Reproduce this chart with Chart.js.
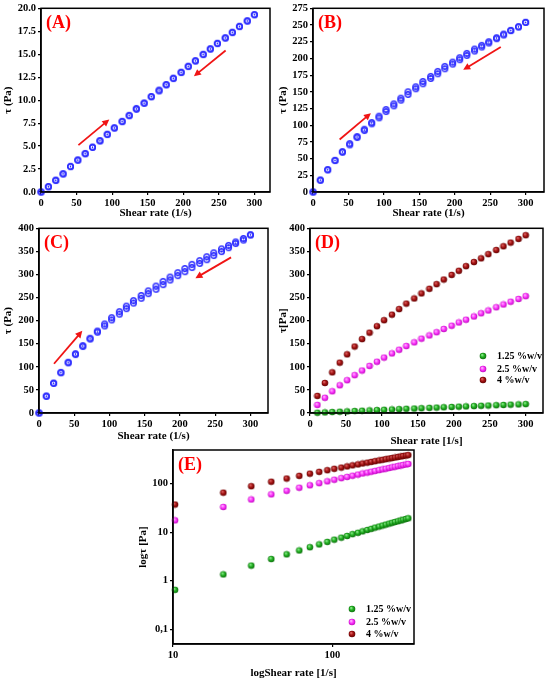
<!DOCTYPE html>
<html>
<head>
<meta charset="utf-8">
<script src="https://cdn.jsdelivr.net/npm/chart.js@4.4.0/dist/chart.umd.min.js"></script>
<style>
  body { margin: 0; background: #fff; width: 550px; height: 685px; position: relative; overflow: hidden; }
  canvas { position: absolute; }
</style>
</head>
<body>
<canvas id="cA"></canvas>
<canvas id="cB"></canvas>
<canvas id="cC"></canvas>
<canvas id="cD"></canvas>
<canvas id="cE"></canvas>
<script>
// shear rates (1/s) of the up / down sweeps
const shearRate = [0, 10.3, 20.7, 31.0, 41.4, 51.7, 62.1, 72.4, 82.8, 93.1, 103, 114, 124, 134, 145,
  155, 166, 176, 186, 197, 207, 217, 228, 238, 248, 259, 269, 279, 290, 300]

// (A) 1.25 %w/v
const tauA_up = [0, 0.6, 1.3, 2.0, 2.8, 3.5, 4.2, 4.9, 5.6, 6.3, 7.0, 7.7, 8.35, 9.1, 9.7,
  10.4, 11.1, 11.7, 12.4, 13.05, 13.7, 14.3, 15.0, 15.6, 16.2, 16.8, 17.4, 18.05, 18.65, 19.3]
const tauA_down = [0, 0.55, 1.25, 1.95, 2.75, 3.45, 4.15, 4.85, 5.55, 6.25, 6.95, 7.65, 8.3, 9.0, 9.65,
  10.35, 11.0, 11.65, 12.35, 13.0, 13.65, 14.25, 14.95, 15.55, 16.15, 16.75, 17.35, 18.0, 18.6, 19.3]

// (B) 2.5 %w/v
const tauB_up = [0, 18, 33.5, 47.5, 60.5, 72.5, 83, 94, 104, 113.5, 123.5, 132, 140.5, 150, 157.5,
  165.5, 173, 180.5, 188, 194.5, 201, 207.5, 214, 219.5, 225, 231, 236.5, 242, 247.5, 254]
const tauB_down = [0, 17.5, 33, 47, 59.5, 70.5, 81.5, 92, 102, 111, 120.5, 129, 137.5, 146, 154.5,
  162, 170, 177, 184.5, 191.5, 198, 204.5, 211, 217, 223, 229.5, 235, 241.5, 247, 254]

// (C) 4 %w/v
const tauC_up = [0, 37, 65, 88, 110, 128.5, 146, 162, 177.5, 193, 206.5, 219.5, 231.5, 243.5, 254.5,
  264.5, 275, 285, 294.5, 304, 313, 322, 330, 338.5, 347, 355.5, 363, 370.5, 378, 386]
const tauC_down = [0, 36, 64, 87, 108.5, 126.5, 144, 160, 175, 188.5, 201.5, 214, 226, 238, 248.5,
  258.5, 268, 278, 288, 297.5, 306, 315, 324, 332, 341, 349.5, 358, 367, 374.5, 385.5]

// (D) / (E) flow curves, shear rate 10.3 .. 300
const flowRate = shearRate.slice(1)
const tau125 = [0.65, 1.35, 2.05, 2.8, 3.5, 4.2, 4.9, 5.6, 6.3, 7.0, 7.7, 8.35, 9.1, 9.7, 10.4,
  11.1, 11.7, 12.4, 13.05, 13.7, 14.3, 15.0, 15.6, 16.2, 16.8, 17.4, 18.05, 18.65, 19.3]
const tau25 = [17.5, 33, 47, 60, 71, 82, 92, 102, 111, 120, 129, 137, 145, 153, 161,
  168, 175, 182, 189, 196, 202, 209, 216, 222, 229, 235, 241, 247, 253]
const tau4 = [37, 65, 88, 109, 127, 144, 160, 174, 188, 201, 213, 225, 237, 248, 259,
  269, 279, 289, 299, 308, 318, 327, 335, 344, 353, 361, 369, 377, 385]
const seriesNames = ['1.25 %w/v', '2.5 %w/v', '4 %w/v']

const FONT = '"Liberation Serif", "Times New Roman", serif'

const pts = (xs, ys) => xs.map((x, i) => ({ x, y: ys[i] }))

// hollow blue circle with a dot in the middle
function ringMarker () {
  const c = document.createElement('canvas')
  c.width = 9; c.height = 9
  const g = c.getContext('2d')
  g.strokeStyle = '#2d2dff'
  g.lineWidth = 1.5
  g.beginPath(); g.arc(4.5, 4.5, 2.8, 0, Math.PI * 2); g.stroke()
  g.fillStyle = '#2d2dff'
  g.beginPath(); g.arc(4.5, 4.5, 0.7, 0, Math.PI * 2); g.fill()
  return c
}

// shaded sphere marker
function ballMarker (light, base, dark) {
  const c = document.createElement('canvas')
  c.width = 8; c.height = 8
  const g = c.getContext('2d')
  const grad = g.createRadialGradient(3, 2.8, 0.2, 4, 4, 3.6)
  grad.addColorStop(0, light)
  grad.addColorStop(0.45, base)
  grad.addColorStop(1, dark)
  g.fillStyle = grad
  g.beginPath(); g.arc(4, 4, 3.3, 0, Math.PI * 2); g.fill()
  return c
}

const ring = ringMarker()
const balls = [
  ballMarker('#9cf09c', '#22b422', '#0b640b'),
  ballMarker('#ffc0ff', '#ff3cff', '#b800b8'),
  ballMarker('#e27070', '#a81414', '#5a0000')
]

const framePlugin = {
  id: 'frame',
  afterDatasetsDraw (chart, args, o) {
    const { ctx, chartArea: a, scales } = chart
    ctx.save()
    ctx.strokeStyle = '#000'
    ctx.lineWidth = 1.5
    ctx.strokeRect(a.left, a.top, a.right - a.left, a.bottom - a.top)

    ctx.fillStyle = '#ff0000'
    ctx.font = 'bold 18px ' + FONT
    ctx.textBaseline = 'alphabetic'
    ctx.textAlign = 'left'
    ctx.fillText(o.letter, a.left + 5, a.top + 20)

    ;(o.arrows || []).forEach(ar => {
      const x1 = scales.x.getPixelForValue(ar[0]), y1 = scales.y.getPixelForValue(ar[1])
      const x2 = scales.x.getPixelForValue(ar[2]), y2 = scales.y.getPixelForValue(ar[3])
      const ang = Math.atan2(y2 - y1, x2 - x1)
      ctx.strokeStyle = '#f01414'
      ctx.fillStyle = '#f01414'
      ctx.lineWidth = 1.8
      ctx.beginPath()
      ctx.moveTo(x1, y1)
      ctx.lineTo(x2 - 5 * Math.cos(ang), y2 - 5 * Math.sin(ang))
      ctx.stroke()
      ctx.beginPath()
      ctx.moveTo(x2, y2)
      ctx.lineTo(x2 - 7 * Math.cos(ang) + 3.5 * Math.sin(ang), y2 - 7 * Math.sin(ang) - 3.5 * Math.cos(ang))
      ctx.lineTo(x2 - 7 * Math.cos(ang) - 3.5 * Math.sin(ang), y2 - 7 * Math.sin(ang) + 3.5 * Math.cos(ang))
      ctx.closePath()
      ctx.fill()
    })

    if (o.legend) {
      const L = o.legend
      ctx.font = 'bold 10px ' + FONT
      ctx.fillStyle = '#000'
      ctx.textBaseline = 'middle'
      chart.data.datasets.forEach((ds, i) => {
        const y = a.bottom + L.rows[i]
        const img = ds.pointStyle
        ctx.drawImage(img, a.right + L.sx - img.width / 2, y - img.height / 2)
        ctx.fillText(ds.label, a.right + L.tx, y)
      })
    }
    ctx.restore()
  }
}

function axis (cfg) {
  return {
    type: cfg.type || 'linear',
    min: cfg.min,
    max: cfg.max,
    afterFit: cfg.fit,
    afterBuildTicks: cfg.fixedTicks ? s => { s.ticks = cfg.fixedTicks.map(v => ({ value: v })) } : undefined,
    ticks: {
      stepSize: cfg.step,
      includeBounds: false,
      color: '#000',
      padding: 2,
      maxRotation: 0,
      autoSkip: false,
      font: { family: FONT, size: 10.5, weight: 'bold' },
      callback: cfg.fmt
    },
    grid: { drawOnChartArea: false, drawTicks: true, tickLength: 3, color: '#000', lineWidth: 1.2 },
    border: { display: true, color: '#000', width: 1.5 },
    title: {
      display: true,
      text: cfg.title,
      color: '#000',
      padding: { top: 2, bottom: 2 },
      font: { family: FONT, size: 11, weight: 'bold' }
    }
  }
}

function panel (id, box, datasets, xCfg, yCfg, frame) {
  const cv = document.getElementById(id)
  cv.width = box.w
  cv.height = box.h
  cv.style.left = box.left + 'px'
  cv.style.top = box.top + 'px'
  xCfg.fit = s => { s.height = box.xH }
  yCfg.fit = s => { s.width = box.yW }
  return new Chart(cv, {
    type: 'scatter',
    data: { datasets },
    options: {
      responsive: false,
      animation: false,
      layout: { padding: { left: 0, bottom: box.padBottom || 0, top: box.padTop, right: box.padRight } },
      plugins: { legend: { display: false }, tooltip: { enabled: false }, frame },
      scales: { x: axis(xCfg), y: axis(yCfg) }
    },
    plugins: [framePlugin]
  })
}

const ringSet = (label, ys) => ({
  label, data: pts(shearRate, ys), pointStyle: ring, pointRadius: 3, clip: false
})
const ballSet = (i, ys) => ({
  label: seriesNames[i], data: pts(flowRate, ys), pointStyle: balls[i], pointRadius: 3, clip: false
})

panel('cA', { left: 0, top: 0, w: 275, h: 222, yW: 41, xH: 30, padTop: 8, padRight: 5 },
  [ringSet('up', tauA_up), ringSet('down', tauA_down)],
  { min: 0, max: 322, step: 50, title: 'Shear rate (1/s)' },
  { min: 0, max: 20, step: 2.5, title: 'τ (Pa)', fmt: v => v.toFixed(1) },
  { letter: '(A)', arrows: [[52.6, 5.1, 96, 7.9], [259.6, 15.4, 215, 12.6]] })

panel('cB', { left: 275, top: 0, w: 275, h: 222, yW: 38, xH: 30, padTop: 7, padRight: 6 },
  [ringSet('up', tauB_up), ringSet('down', tauB_down)],
  { min: 0, max: 326, step: 50, title: 'Shear rate (1/s)' },
  { min: 0, max: 275, step: 25, title: 'τ (Pa)' },
  { letter: '(B)', arrows: [[37.6, 78.5, 81.7, 118], [265, 217, 212, 183]] })

panel('cC', { left: 0, top: 220, w: 275, h: 225, yW: 39, xH: 32, padTop: 8, padRight: 7 },
  [ringSet('up', tauC_up), ringSet('down', tauC_down)],
  { min: 0, max: 325, step: 50, title: 'Shear rate (1/s)' },
  { min: 0, max: 400, step: 50, title: 'τ (Pa)' },
  { letter: '(C)', arrows: [[21.3, 106.7, 61.5, 178], [272.6, 337, 222, 292]] })

panel('cD', { left: 275, top: 220, w: 275, h: 230, yW: 35, xH: 37, padTop: 8, padRight: 7 },
  [ballSet(0, tau125), ballSet(1, tau25), ballSet(2, tau4)],
  { min: 0, max: 324, step: 50, title: 'Shear rate [1/s]' },
  { min: 0, max: 400, step: 50, title: 'τ[Pa]' },
  { letter: '(D)', legend: { sx: -60, tx: -46, rows: [-57, -44, -33] } })

panel('cE', { left: 135, top: 440, w: 295, h: 245, yW: 38, xH: 38, padTop: 10, padRight: 16, padBottom: 3 },
  [ballSet(0, tau125), ballSet(1, tau25), ballSet(2, tau4)],
  { type: 'logarithmic', min: 10, max: 326, fixedTicks: [10, 100], title: 'logShear rate [1/s]', fmt: v => String(v) },
  { type: 'logarithmic', min: 0.05, max: 490, fixedTicks: [0.1, 1, 10, 100], title: 'logτ [Pa]',
    fmt: v => String(v).replace('.', ',') },
  { letter: '(E)', legend: { sx: -62, tx: -48, rows: [-35, -22, -10] } })
</script>
</body>
</html>
